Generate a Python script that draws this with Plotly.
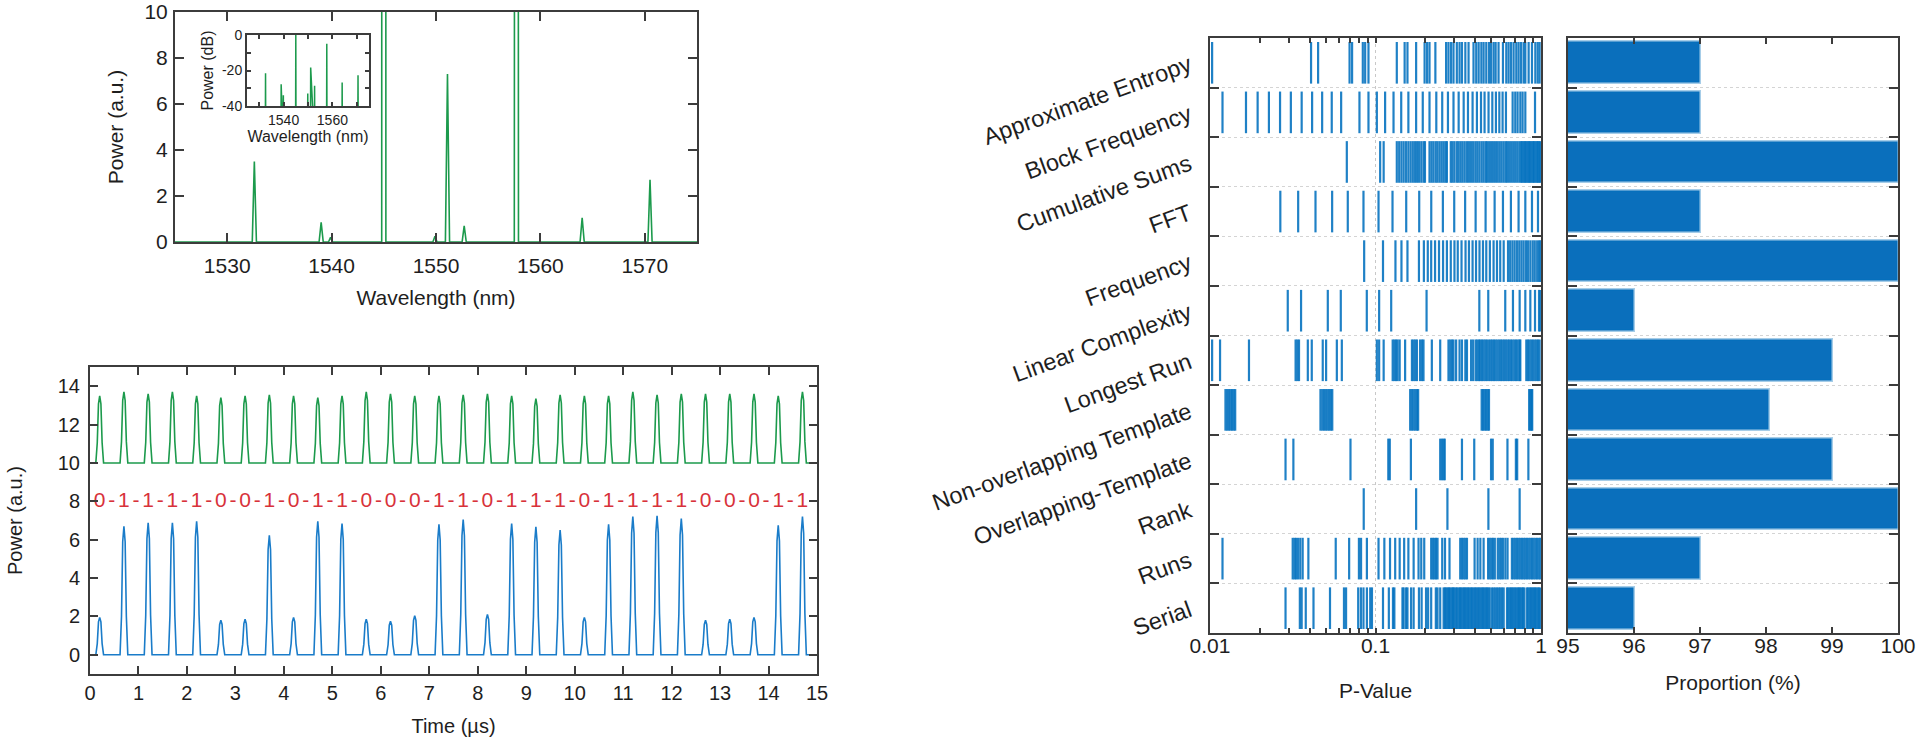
import math
import plotly.graph_objects as go

# ---------------- DATA ----------------
# Optical spectrum: peak wavelengths (nm) and peak powers (a.u.)
spec_wl = [1532.6, 1539.0, 1539.9, 1545.0, 1549.9, 1551.1, 1552.7, 1557.7, 1564.0, 1570.5]
spec_pw = [3.5, 0.85, 0.2, 500.0, 0.25, 7.3, 0.7, 160.0, 1.05, 2.7]

# Time traces: pulse times (us), peak levels of green (clock) and blue (data) traces
pulse_t = [0.2, 0.7, 1.2, 1.7, 2.2, 2.7, 3.2, 3.7, 4.2, 4.7, 5.2, 5.7, 6.2, 6.7, 7.2,
           7.7, 8.2, 8.7, 9.2, 9.7, 10.2, 10.7, 11.2, 11.7, 12.2, 12.7, 13.2, 13.7, 14.2, 14.7]
green_peak = [13.5, 13.7, 13.6, 13.7, 13.5, 13.4, 13.5, 13.55, 13.5, 13.4, 13.5, 13.7, 13.6, 13.5, 13.5,
              13.55, 13.6, 13.5, 13.35, 13.55, 13.5, 13.5, 13.7, 13.55, 13.6, 13.6, 13.6, 13.6, 13.5, 13.7]
blue_peak = [1.95, 6.7, 6.88, 6.88, 6.96, 1.8, 1.85, 6.23, 1.95, 6.96, 6.84, 1.85, 1.75, 2.04, 6.8,
             7.05, 2.1, 6.84, 6.67, 6.5, 1.95, 6.8, 7.2, 7.24, 7.1, 1.8, 1.85, 1.95, 6.75, 7.2]
bits = ["0", "1", "1", "1", "1", "0", "0", "1", "0", "1", "1", "0", "0", "0", "1",
        "1", "0", "1", "1", "1", "0", "1", "1", "1", "1", "0", "0", "0", "1", "1"]
green_base = 10.0
blue_base = 0.0
bits_level = 8.0

# NIST tests
tests = ["Approximate Entropy", "Block Frequency", "Cumulative Sums", "FFT", "Frequency",
         "Linear Complexity", "Longest Run", "Non-overlapping Template", "Overlapping-Template",
         "Rank", "Runs", "Serial"]
proportion = [97, 97, 100, 97, 100, 96, 99, 98.05, 99, 100, 97, 96]

pv_approximate_entropy = [0.0103, 0.0408, 0.045, 0.0697, 0.0722, 0.0838, 0.0866, 0.0907, 0.1345, 0.150,
                          0.156, 0.176, 0.198, 0.205, 0.212, 0.230, 0.267, 0.276, 0.286, 0.296, 0.310,
                          0.322, 0.333, 0.349, 0.365, 0.391, 0.406, 0.420, 0.436, 0.450, 0.467, 0.485,
                          0.499, 0.517, 0.532, 0.554, 0.589, 0.617, 0.637, 0.659, 0.683, 0.709, 0.732,
                          0.757, 0.785, 0.804, 0.842, 0.882, 0.924, 0.955, 0.981]
pv_block_frequency = [0.0119, 0.0165, 0.0194, 0.0227, 0.0265, 0.0308, 0.0358, 0.0414, 0.0476, 0.0544,
                      0.062, 0.080, 0.0907, 0.1019, 0.1143, 0.1285, 0.143, 0.158, 0.176, 0.193, 0.212,
                      0.233, 0.253, 0.274, 0.296, 0.318, 0.341, 0.362, 0.386, 0.410, 0.434, 0.456,
                      0.482, 0.508, 0.534, 0.560, 0.586, 0.614, 0.674, 0.699, 0.722, 0.750, 0.774,
                      0.804, 0.920]
pv_cumulative_sums = [0.0671, 0.1067, 0.112, 0.1345, 0.139, 0.1435, 0.148, 0.153, 0.158, 0.163, 0.168,
                      0.173, 0.178, 0.183, 0.189, 0.195, 0.199, 0.212, 0.218, 0.224, 0.231, 0.237,
                      0.244, 0.251, 0.258, 0.265, 0.270, 0.285, 0.292, 0.300, 0.310, 0.318, 0.327,
                      0.336, 0.346, 0.357, 0.367, 0.378, 0.389, 0.401, 0.412, 0.424, 0.437, 0.449,
                      0.462, 0.471, 0.485, 0.499, 0.513, 0.528, 0.543, 0.559, 0.575, 0.592, 0.609,
                      0.623, 0.641, 0.660, 0.679, 0.698, 0.718, 0.739, 0.757, 0.771, 0.785, 0.800,
                      0.815, 0.830, 0.845, 0.861, 0.876, 0.893, 0.909, 0.926, 0.943, 0.960, 0.978, 0.991]
pv_fft = [0.0266, 0.0341, 0.0434, 0.0547, 0.068, 0.0846, 0.1043, 0.1267, 0.1533, 0.1837, 0.2172,
          0.2553, 0.299, 0.348, 0.4027, 0.4626, 0.5245, 0.589, 0.658, 0.732, 0.804, 0.882, 0.959]
pv_frequency = [0.0854, 0.111, 0.132, 0.1435, 0.156, 0.183, 0.196, 0.207, 0.217, 0.229, 0.242, 0.256,
                0.270, 0.285, 0.300, 0.314, 0.331, 0.350, 0.367, 0.386, 0.405, 0.425, 0.446, 0.467,
                0.491, 0.517, 0.542, 0.567, 0.595, 0.632, 0.651, 0.672, 0.693, 0.716, 0.739, 0.762,
                0.785, 0.811, 0.834, 0.862, 0.891, 0.917, 0.948, 0.974, 0.995]
pv_linear_complexity = [0.0295, 0.0355, 0.0515, 0.0617, 0.0886, 0.1052, 0.1244, 0.2035, 0.424, 0.480,
                        0.608, 0.677, 0.743, 0.804, 0.862, 0.920, 0.973, 0.991]
pv_longest_run = [0.0103, 0.0115, 0.0172, 0.0329, 0.0337, 0.0345, 0.039, 0.0412, 0.048, 0.0503, 0.0584,
                  0.0626, 0.1019, 0.1052, 0.112, 0.127, 0.130, 0.133, 0.136, 0.140, 0.151, 0.166,
                  0.170, 0.174, 0.178, 0.186, 0.191, 0.195, 0.219, 0.246, 0.276, 0.283, 0.290, 0.296,
                  0.307, 0.322, 0.333, 0.349, 0.357, 0.378, 0.389, 0.403, 0.412, 0.422, 0.430, 0.440,
                  0.450, 0.461, 0.471, 0.485, 0.497, 0.508, 0.520, 0.532, 0.545, 0.559, 0.572, 0.585,
                  0.599, 0.613, 0.628, 0.642, 0.658, 0.673, 0.690, 0.706, 0.723, 0.741, 0.750, 0.815,
                  0.834, 0.853, 0.874, 0.893, 0.917, 0.939, 0.959, 0.981]
pv_non_overlapping = [0.0124, 0.0127, 0.0130, 0.0133, 0.0136, 0.0139, 0.0142, 0.0465, 0.0477, 0.0489,
                      0.0501, 0.0513, 0.0525, 0.0537, 0.0548, 0.162, 0.166, 0.170, 0.174, 0.178, 0.181,
                      0.438, 0.447, 0.456, 0.466, 0.476, 0.485, 0.848, 0.862, 0.876, 0.885]
pv_overlapping = [0.0286, 0.0319, 0.0706, 0.1195, 0.122, 0.1636, 0.246, 0.252, 0.258, 0.262, 0.333,
                  0.395, 0.499, 0.511, 0.627, 0.705, 0.718, 0.839]
pv_rank = [0.0849, 0.176, 0.272, 0.481, 0.743]
pv_runs = [0.0119, 0.0316, 0.0324, 0.0331, 0.034, 0.0351, 0.0363, 0.0393, 0.0575, 0.0693, 0.0794,
           0.0818, 0.0887, 0.1043, 0.1131, 0.1224, 0.1315, 0.140, 0.149, 0.158, 0.170, 0.182, 0.189,
           0.197, 0.217, 0.222, 0.227, 0.232, 0.237, 0.253, 0.263, 0.280, 0.325, 0.333, 0.341, 0.349,
           0.357, 0.397, 0.414, 0.430, 0.450, 0.479, 0.490, 0.502, 0.513, 0.526, 0.548, 0.562, 0.575,
           0.589, 0.609, 0.628, 0.667, 0.683, 0.699, 0.716, 0.733, 0.750, 0.768, 0.786, 0.804, 0.823,
           0.843, 0.863, 0.883, 0.903, 0.925, 0.946, 0.969, 0.991]
pv_serial = [0.0286, 0.0349, 0.0358, 0.0379, 0.0422, 0.0531, 0.0645, 0.0664, 0.0786, 0.0816, 0.0846,
             0.0887, 0.0929, 0.0952, 0.111, 0.1204, 0.1275, 0.130, 0.1455, 0.148, 0.153, 0.156, 0.164,
             0.170, 0.183, 0.190, 0.202, 0.208, 0.217, 0.2315, 0.237, 0.246, 0.258, 0.263, 0.268,
             0.273, 0.278, 0.283, 0.289, 0.294, 0.299, 0.305, 0.311, 0.318, 0.324, 0.330, 0.336,
             0.343, 0.349, 0.355, 0.362, 0.369, 0.376, 0.383, 0.391, 0.398, 0.406, 0.414, 0.421,
             0.430, 0.438, 0.446, 0.455, 0.463, 0.472, 0.481, 0.490, 0.505, 0.517, 0.529, 0.542,
             0.555, 0.567, 0.581, 0.595, 0.623, 0.635, 0.647, 0.660, 0.672, 0.683, 0.698, 0.711,
             0.725, 0.739, 0.750, 0.765, 0.779, 0.794, 0.823, 0.839, 0.855, 0.872, 0.888, 0.903,
             0.920, 0.937, 0.955, 0.973, 0.991]

pvalues = [pv_approximate_entropy, pv_block_frequency, pv_cumulative_sums, pv_fft, pv_frequency,
           pv_linear_complexity, pv_longest_run, pv_non_overlapping, pv_overlapping, pv_rank,
           pv_runs, pv_serial]

# ---------------- STYLE ----------------
W, H = 1920, 746
FONT = "Liberation Sans, Arial, Helvetica, sans-serif"
GREEN = "#1c9a4c"
BLUE_T = "#1a7cc9"
BLUE = "#0a6fbc"
RED = "#d8323a"
AX = "#3c3c3c"


def dom_x(a, b):
    return [a / W, b / W]


def dom_y(top, bottom):
    return [1 - bottom / H, 1 - top / H]


fig = go.Figure()

# ---- spectrum (main) ----
sx, sy = [1525.0], [0.0]
hw = 0.2
for wl, pw in zip(spec_wl, spec_pw):
    sx += [wl - hw, wl, wl + hw]
    sy += [0.0, pw, 0.0]
sx.append(1575.0)
sy.append(0.0)
fig.add_trace(go.Scatter(x=sx, y=sy, mode="lines", line=dict(color=GREEN, width=1.6),
                         xaxis="x", yaxis="y", hoverinfo="skip"))

# ---- spectrum inset (dB) ----
pmax = max(spec_pw)
ix, iy = [1525.0], [-60.0]
for wl, pw in zip(spec_wl, spec_pw):
    ix += [wl - 0.1, wl, wl + 0.1]
    iy += [-60.0, 10 * math.log10(pw / pmax), -60.0]
ix.append(1575.0)
iy.append(-60.0)
fig.add_trace(go.Scatter(x=ix, y=iy, mode="lines", line=dict(color=GREEN, width=1.5),
                         xaxis="x2", yaxis="y2", hoverinfo="skip"))

# ---- time traces ----
shape_dt = [-0.08, -0.05, -0.025, 0.0, 0.025, 0.05, 0.08]
shape_fr = [0.0, 0.3, 0.88, 1.0, 0.88, 0.3, 0.0]


def waveform(base, peaks):
    xs, ys = [0.0], [base]
    for t, h in zip(pulse_t, peaks):
        for dt, f in zip(shape_dt, shape_fr):
            xs.append(t + dt)
            ys.append(base + (h - base) * f)
    xs.append(15.0)
    ys.append(base)
    return xs, ys


gx, gy = waveform(green_base, green_peak)
bx, by = waveform(blue_base, blue_peak)
fig.add_trace(go.Scatter(x=gx, y=gy, mode="lines", line=dict(color=GREEN, width=1.6),
                         xaxis="x3", yaxis="y3", hoverinfo="skip"))
fig.add_trace(go.Scatter(x=bx, y=by, mode="lines", line=dict(color=BLUE_T, width=1.6),
                         xaxis="x3", yaxis="y3", hoverinfo="skip"))

# bit labels and dashes
tx = list(pulse_t) + [(a + b) / 2 for a, b in zip(pulse_t[:-1], pulse_t[1:])]
tt = list(bits) + ["-"] * (len(pulse_t) - 1)
fig.add_trace(go.Scatter(x=tx, y=[bits_level] * len(tx), text=tt, mode="text",
                         textfont=dict(color=RED, size=21, family=FONT),
                         textposition="middle center", xaxis="x3", yaxis="y3", hoverinfo="skip"))

# ---- P-value panel ----
px_, py_ = [], []
hh = 0.42
for i, vals in enumerate(pvalues):
    for p in vals:
        px_ += [p, p, None]
        py_ += [i - hh, i + hh, None]
fig.add_trace(go.Scatter(x=[0.1, 0.1], y=[-0.5, 11.5], mode="lines",
                         line=dict(color="#c8c8c8", width=1, dash="dot"),
                         xaxis="x4", yaxis="y4", hoverinfo="skip"))
fig.add_trace(go.Scatter(x=px_, y=py_, mode="lines", line=dict(color="rgba(0,112,190,0.88)", width=2.2),
                         xaxis="x4", yaxis="y4", hoverinfo="skip", connectgaps=False))
fig.add_trace(go.Scatter(x=[0.5], y=[0], mode="markers", marker=dict(opacity=0),
                         xaxis="x4", yaxis="y5", hoverinfo="skip"))

# ---- Proportion panel ----
fig.add_trace(go.Bar(x=[v - 95 for v in proportion], base=95, y=list(range(len(tests))),
                     orientation="h", width=0.82,
                     marker=dict(color=BLUE, line=dict(color="rgba(0,112,190,0.35)", width=3)),
                     xaxis="x6", yaxis="y6", hoverinfo="skip"))

# ---------------- LAYOUT ----------------
common = dict(showline=True, linecolor=AX, linewidth=2, mirror="ticks", ticks="inside",
              tickcolor=AX, tickwidth=1.6, showgrid=False, zeroline=False, automargin=False)

minor_vals = [0.01, 0.02, 0.03, 0.04, 0.05, 0.06, 0.07, 0.08, 0.09,
              0.1, 0.2, 0.3, 0.4, 0.5, 0.6, 0.7, 0.8, 0.9, 1.0]
minor_text = ["0.01"] + [""] * 8 + ["0.1"] + [""] * 8 + ["1"]
cat_pos = list(range(len(tests)))
bounds = [i + 0.5 for i in range(len(tests) - 1)]

fig.update_layout(
    width=W, height=H, margin=dict(l=0, r=0, t=0, b=0, autoexpand=False),
    paper_bgcolor="white", plot_bgcolor="white", showlegend=False,
    font=dict(family=FONT, size=20, color="#1e1e1e"),
    bargap=0,
    xaxis=dict(domain=dom_x(175, 697), anchor="y", range=[1525, 1575],
               tickvals=[1530, 1540, 1550, 1560, 1570], ticklen=9, tickfont=dict(size=21),
               ticklabelstandoff=4,
               title=dict(text="Wavelength (nm)", font=dict(size=21), standoff=14), **common),
    yaxis=dict(domain=dom_y(12, 242), anchor="x", range=[0, 10],
               tickvals=[0, 2, 4, 6, 8, 10], ticklen=9, tickfont=dict(size=21),
               ticklabelstandoff=1,
               title=dict(text="Power (a.u.)", font=dict(size=21), standoff=15), **common),
    xaxis2=dict(domain=dom_x(247, 369), anchor="y2", range=[1525, 1575],
                tickvals=[1530, 1540, 1550, 1560, 1570], ticktext=["", "1540", "", "1560", ""],
                ticklen=4, tickfont=dict(size=14),
                title=dict(text="Wavelength (nm)", font=dict(size=16), standoff=4), **common),
    yaxis2=dict(domain=dom_y(35, 106), anchor="x2", range=[-40, 0],
                tickvals=[-40, -30, -20, -10, 0], ticktext=["-40", "", "-20", "", "0"],
                ticklen=4, tickfont=dict(size=14),
                title=dict(text="Power (dB)", font=dict(size=16), standoff=4), **common),
    xaxis3=dict(domain=dom_x(90, 817), anchor="y3", range=[0, 15], dtick=1, ticklen=8,
                tickfont=dict(size=20),
                title=dict(text="Time (µs)", font=dict(size=20), standoff=16), **common),
    yaxis3=dict(domain=dom_y(367, 674), anchor="x3", range=[-1, 15],
                tickvals=[0, 2, 4, 6, 8, 10, 12, 14], ticklen=8, tickfont=dict(size=20),
                ticklabelstandoff=4,
                title=dict(text="Power (a.u.)", font=dict(size=20), standoff=30), **common),
    xaxis4=dict(domain=dom_x(1210, 1541), anchor="y4", type="log", range=[-2, 0],
                tickvals=minor_vals, ticktext=minor_text, ticklen=5, tickfont=dict(size=21),
                ticklabelstandoff=-7,
                title=dict(text="P-Value", font=dict(size=21), standoff=27), **common),
    yaxis4=dict(domain=dom_y(38, 633), anchor="x4", range=[11.5, -0.5],
                tickvals=cat_pos, ticktext=tests, tickangle=-20, tickfont=dict(size=23.5),
                showline=True, linecolor=AX, linewidth=2, mirror=True, ticks="",
                showgrid=False, zeroline=False, ticklabelstandoff=14, automargin=False),
    yaxis5=dict(overlaying="y4", anchor="x4", range=[11.5, -0.5], tickvals=bounds,
                showticklabels=False, ticks="inside", ticklen=9, tickcolor=AX, tickwidth=1.6,
                mirror="ticks", showline=True, linecolor=AX, linewidth=2, automargin=False,
                showgrid=True, gridcolor="#d4d4d4", griddash="dot", gridwidth=1, zeroline=False),
    xaxis6=dict(domain=dom_x(1568, 1898), anchor="y6", range=[95, 100], dtick=1, ticklen=6,
                tickfont=dict(size=21), ticklabelstandoff=-7,
                title=dict(text="Proportion (%)", font=dict(size=21), standoff=19), **common),
    yaxis6=dict(domain=dom_y(38, 633), anchor="x6", range=[11.5, -0.5], tickvals=bounds,
                showticklabels=False, ticks="inside", ticklen=9, tickcolor=AX, tickwidth=1.6,
                mirror="ticks", showline=True, linecolor=AX, linewidth=2, automargin=False,
                showgrid=True, gridcolor="#d4d4d4", griddash="dot", gridwidth=1, zeroline=False),
)

fig.write_html("out.html", config={"displayModeBar": False},
               post_script="document.body.style.margin='0px';document.body.style.overflow='hidden';")
